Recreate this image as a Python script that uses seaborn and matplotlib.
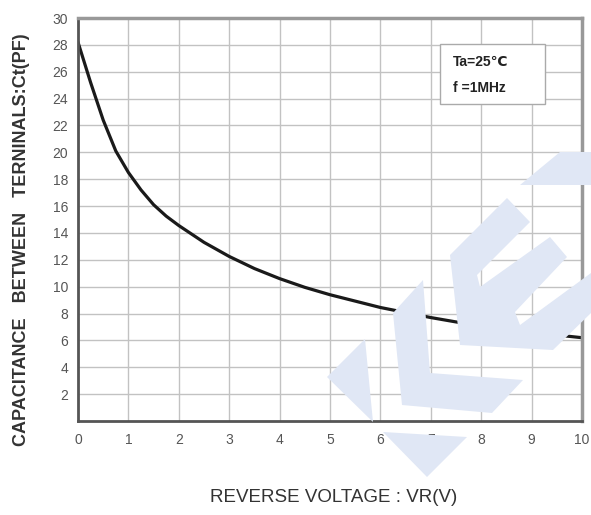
import numpy as np
import pandas as pd
import matplotlib.pyplot as plt
import seaborn as sns
from matplotlib.patches import Polygon, Rectangle

# Ct vs VR
vr = [0, 0.25, 0.5, 0.75, 1, 1.25, 1.5, 1.75, 2, 2.5, 3, 3.5, 4, 4.5, 5, 6, 7, 8, 9, 10]
ct = [28.2, 25.2, 22.4, 20.1, 18.5, 17.2, 16.1, 15.25, 14.55, 13.3, 12.25, 11.35, 10.6,
      9.95, 9.4, 8.45, 7.7, 7.05, 6.6, 6.2]

x_ticks = list(range(0, 11))
y_ticks = list(range(2, 31, 2))

df = pd.DataFrame({"vr": vr, "ct": ct})

sns.set_style("white")
plt.rcParams['font.family'] = ['Liberation Sans', 'DejaVu Sans']

W, H = 591, 515
fig = plt.figure(figsize=(W / 100, H / 100), dpi=100)
ax = fig.add_axes([78 / W, 1 - 421 / H, 504 / W, 403 / H])

# faint watermark logo behind the plot (pixel outlines -> figure coords)
wm = "#e0e7f5"
logo = [
    [(365, 339), (327, 377), (373, 422)],
    [(393, 313), (423, 280), (430, 373), (523, 380), (492, 413), (402, 405)],
    [(383, 432), (467, 437), (427, 477)],
    [(507, 198), (530, 222), (477, 275), (480, 287), (550, 237), (567, 257),
     (515, 312), (520, 325), (591, 273), (591, 313), (553, 350), (460, 345), (450, 255)],
    [(520, 185), (560, 152), (591, 152), (591, 185)],
]
for pts in logo:
    fpts = [(px / W, 1 - py / H) for px, py in pts]
    fig.patches.append(Polygon(fpts, closed=True, transform=fig.transFigure,
                               facecolor=wm, edgecolor="none", zorder=0))
ax.set_facecolor("none")

sns.lineplot(data=df, x="vr", y="ct", ax=ax, color="#1a1a1a", linewidth=2.3)

ax.set_xlim(0, 10)
ax.set_ylim(0, 30)
ax.set_xticks(x_ticks)
ax.set_yticks(y_ticks)
ax.set_xticks(np.arange(0.5, 10, 1), minor=True)
ax.set_yticks(np.arange(1, 30, 2), minor=True)
ax.set_xlabel("")
ax.set_ylabel("")
ax.grid(True, which="major", color="#c2c2c2", linewidth=1.0)
ax.tick_params(axis="both", which="both", direction="in", colors="#777777",
               labelcolor="#555555", labelsize=10)
ax.tick_params(which="major", length=4, width=1)
ax.tick_params(which="minor", length=3, width=1)
ax.tick_params(axis="x", pad=9)
ax.tick_params(axis="y", pad=7)

for side in ["left", "bottom"]:
    ax.spines[side].set_color("#555555")
    ax.spines[side].set_linewidth(2)
for side in ["top", "right"]:
    ax.spines[side].set_color("#999999")
    ax.spines[side].set_linewidth(2.5)

fig.text(334 / W, 1 - 497 / H, "REVERSE VOLTAGE : VR(V)", fontsize=13.5,
         color="#333333", ha="center", va="center")
fig.text(22 / W, 1 - 240 / H, "CAPACITANCE   BETWEEN   TERNINALS:Ct(PF)",
         fontsize=13, fontweight="bold", color="#333333", rotation=90,
         ha="center", va="center")

# condition box
ax.add_patch(Rectangle((0.718, 0.787), 0.209, 0.148, transform=ax.transAxes,
                       facecolor="white", edgecolor="#aaaaaa", linewidth=1, zorder=5))
ax.text(0.744, 0.891, "Ta=25\u2103", transform=ax.transAxes, fontsize=10,
        fontweight="bold", color="#222222", va="center", ha="left", zorder=6)
ax.text(0.744, 0.826, "f =1MHz", transform=ax.transAxes, fontsize=10,
        fontweight="bold", color="#222222", va="center", ha="left", zorder=6)

fig.savefig("out.png", dpi=100)
